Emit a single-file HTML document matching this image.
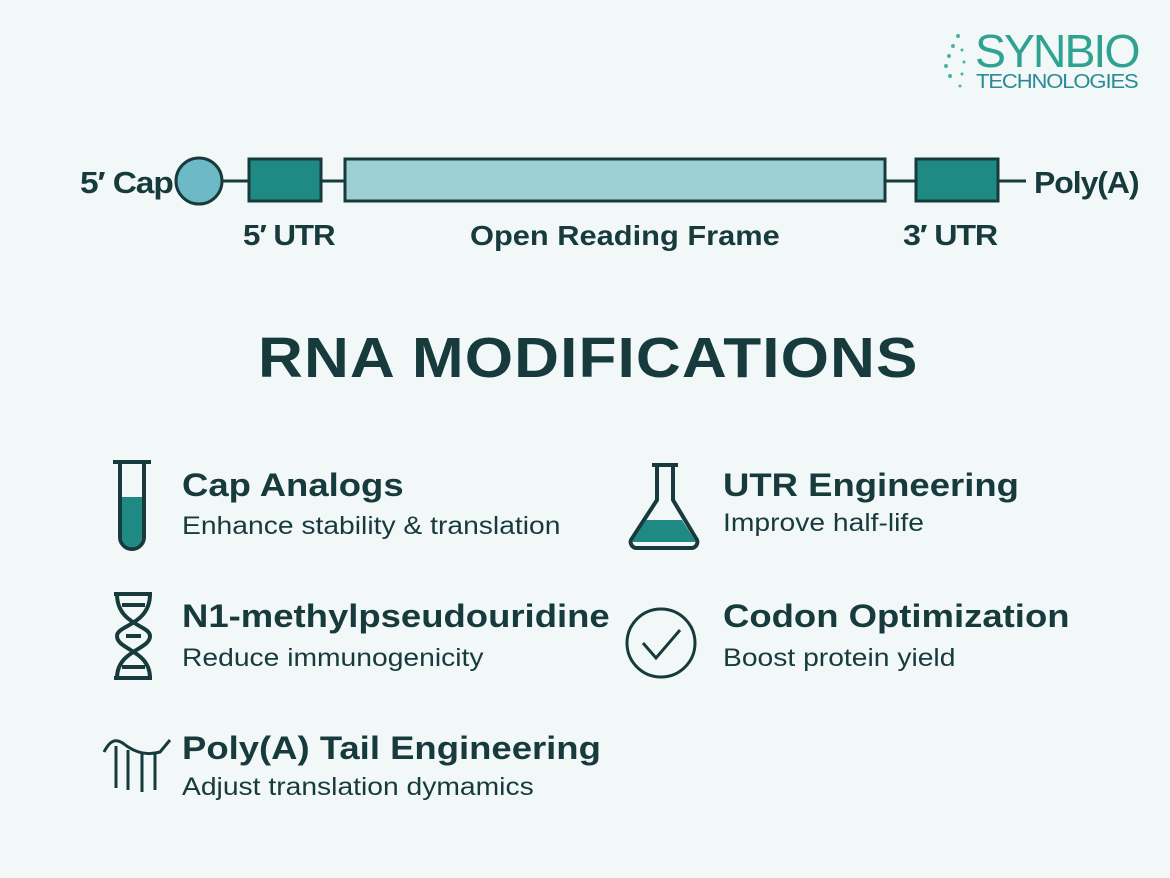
<!DOCTYPE html>
<html><head><meta charset="utf-8"><style>
html,body{margin:0;padding:0}
body{width:1170px;height:878px;position:relative;background:#f2f7f7;font-family:"Liberation Sans",sans-serif;color:#173b3d;overflow:hidden}
.t{position:absolute;white-space:nowrap;line-height:1;transform-origin:left}
.b{font-weight:bold}
.h{font-size:32px;font-weight:bold;transform:scaleX(1.14)}
.s{font-size:25px;transform:scaleX(1.13)}
</style></head><body>
<div class="t" style="left:975px;top:28px;font-size:46px;letter-spacing:-2px;color:#2fa391;transform:scaleX(1.01)">SYNBIO</div>
<div class="t" style="left:976px;top:72px;font-size:20px;letter-spacing:-1px;color:#2a8a95;transform:scaleX(1.1)">TECHNOLOGIES</div>
<svg style="position:absolute;left:0;top:0" width="1170" height="878">
<g fill="#4bb3a8"><circle cx="958" cy="36" r="2"/><circle cx="953" cy="46" r="2"/><circle cx="949" cy="56" r="2"/><circle cx="946" cy="66" r="2"/><circle cx="950" cy="76" r="2"/><circle cx="962" cy="50" r="1.5"/><circle cx="964" cy="62" r="1.5"/><circle cx="962" cy="74" r="1.5"/><circle cx="960" cy="86" r="1.5"/></g>
<line x1="222" y1="181" x2="1026" y2="181" stroke="#173b3d" stroke-width="3"/>
<circle cx="199" cy="181" r="23" fill="#6db9c6" stroke="#173b3d" stroke-width="3"/>
<rect x="249" y="159" width="72" height="42" fill="#1f8a84" stroke="#173b3d" stroke-width="3"/>
<rect x="345" y="159" width="540" height="42" fill="#9dd0d4" stroke="#173b3d" stroke-width="3"/>
<rect x="916" y="159" width="82" height="42" fill="#1f8a84" stroke="#173b3d" stroke-width="3"/>
<path d="M113 462 H151 M120 462 V537 a12 12 0 0 0 24 0 V462" fill="none" stroke="#173b3d" stroke-width="4"/>
<path d="M122 497 H142 V537 a10 10 0 0 1 -20 0 Z" fill="#1f8a84"/>
<path d="M652 465 H678 M657 465 V500 L631 540 a6 6 0 0 0 5 8 H692 a6 6 0 0 0 5 -8 L673 500 V465" fill="none" stroke="#173b3d" stroke-width="4"/>
<path d="M646 520 H682 L696 542 H632 Z" fill="#1f8a84"/>
<g fill="none" stroke="#173b3d" stroke-width="4"><path d="M114 594 H152 M114 678 H152 M117 594 C117 625 150 625 150 636 C150 650 117 650 117 678 M150 594 C150 625 117 625 117 636 C117 650 150 650 150 678"/><path d="M122 605 H145 M126 636 H141 M122 667 H145"/></g>
<circle cx="661" cy="643" r="34" fill="none" stroke="#173b3d" stroke-width="3"/>
<path d="M643 643 L656 658 L680 630" fill="none" stroke="#173b3d" stroke-width="3"/>
<path d="M104 752 C110 740 116 738 124 744 C134 752 146 756 160 752 L170 740 M116 746 V788 M128 750 V790 M142 754 V792 M155 754 V790" fill="none" stroke="#173b3d" stroke-width="3"/>
</svg>
<div class="t b" style="left:80px;top:167px;font-size:31px;letter-spacing:-1px;transform:scaleX(1.08)">5′ Cap</div>
<div class="t b" style="left:1034px;top:167px;font-size:31px;letter-spacing:-1px;transform:scaleX(1.03)">Poly(A)</div>
<div class="t b" style="left:243px;top:222px;font-size:29px;letter-spacing:-1px;transform:scaleX(1.08)">5′ UTR</div>
<div class="t b" style="left:470px;top:222px;font-size:28px;transform:scaleX(1.1)">Open Reading Frame</div>
<div class="t b" style="left:903px;top:222px;font-size:29px;letter-spacing:-1px;transform:scaleX(1.11)">3′ UTR</div>
<div class="t b" style="left:258px;top:330px;font-size:57px;letter-spacing:1px;transform:scaleX(1.09)">RNA MODIFICATIONS</div>
<div class="t h" style="left:182px;top:469px">Cap Analogs</div>
<div class="t s" style="left:182px;top:514px">Enhance stability &amp; translation</div>
<div class="t h" style="left:723px;top:469px">UTR Engineering</div>
<div class="t s" style="left:723px;top:511px">Improve half-life</div>
<div class="t h" style="left:182px;top:600px">N1-methylpseudouridine</div>
<div class="t s" style="left:182px;top:646px">Reduce immunogenicity</div>
<div class="t h" style="left:723px;top:600px">Codon Optimization</div>
<div class="t s" style="left:723px;top:646px">Boost protein yield</div>
<div class="t h" style="left:182px;top:732px">Poly(A) Tail Engineering</div>
<div class="t s" style="left:182px;top:775px">Adjust translation dymamics</div>
</body></html>
